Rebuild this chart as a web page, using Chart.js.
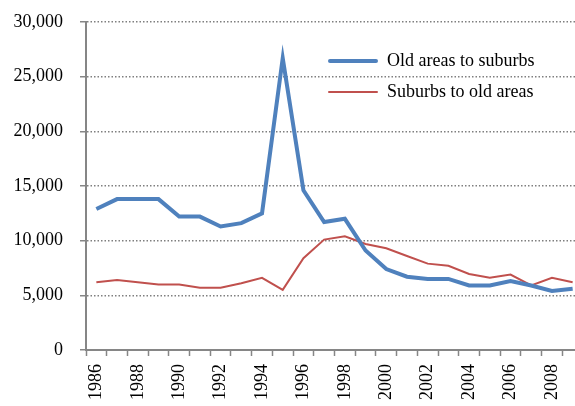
<!DOCTYPE html>
<html>
<head>
<meta charset="utf-8">
<script src="https://cdn.jsdelivr.net/npm/chart.js@4"></script>
<style>
  html, body { margin: 0; padding: 0; background: #fff; overflow: hidden; }
  #wrap { position: relative; width: 585px; height: 406px; }
  #legend { position: absolute; left: 328px; top: 45px; font-family: 'Liberation Serif', serif; font-size: 18px; color: #000; }
  #legend .item { display: flex; align-items: center; height: 31px; }
  #legend .swatch { width: 50px; margin-right: 9px; border-radius: 2px; }
</style>
</head>
<body>
<div id="wrap">
  <canvas id="migrationChart" width="585" height="406"></canvas>
  <div id="legend"></div>
</div>
<script>
// yearly moves between old areas and suburbs
var years = ['1986', '1987', '1988', '1989', '1990', '1991', '1992', '1993', '1994', '1995', '1996', '1997',
             '1998', '1999', '2000', '2001', '2002', '2003', '2004', '2005', '2006', '2007', '2008', '2009'];
var oldToSuburbs = [12900, 13800, 13800, 13800, 12200, 12200, 11300, 11600, 12500, 26700, 14600, 11700,
                    12000, 9100, 7400, 6700, 6500, 6500, 5900, 5900, 6300, 5900, 5400, 5600];
var suburbsToOld = [6200, 6400, 6200, 6000, 6000, 5700, 5700, 6100, 6600, 5500, 8400, 10100,
                    10400, 9700, 9300, 8600, 7900, 7700, 6950, 6600, 6900, 5900, 6600, 6200];
var seriesNames = ['Old areas to suburbs', 'Suburbs to old areas'];
var seriesColors = ['#4F81BD', '#C0504D'];

document.addEventListener('DOMContentLoaded', function() {
    var ctx = document.getElementById('migrationChart').getContext('2d');
    var axisGrey = '#868686';
    var font = { family: "'Liberation Serif', serif", size: 18 };

    new Chart(ctx, {
        type: 'line',
        data: {
            labels: years,
            datasets: [{
                label: seriesNames[0],
                data: oldToSuburbs,
                borderColor: seriesColors[0],
                borderWidth: 4,
                pointRadius: 0,
                tension: 0
            }, {
                label: seriesNames[1],
                data: suburbsToOld,
                borderColor: seriesColors[1],
                borderWidth: 2,
                pointRadius: 0,
                tension: 0
            }]
        },
        options: {
            responsive: false,
            animation: false,
            layout: { padding: { left: 12, top: 22, right: 2, bottom: 0 } },
            scales: {
                x: {
                    offset: true,
                    grid: { drawOnChartArea: false, offset: true, tickLength: 6, tickColor: axisGrey, tickWidth: 1.5 },
                    border: { color: axisGrey, width: 2 },
                    ticks: {
                        autoSkip: false,
                        minRotation: 90,
                        maxRotation: 90,
                        padding: 8,
                        color: '#000',
                        font: font,
                        callback: function(val, i) { return i % 2 === 0 ? years[i] : ''; }
                    },
                    afterFit: function(scale) { scale.height = 56; scale.paddingRight = 0; }
                },
                y: {
                    min: 0,
                    max: 30000,
                    grid: { color: '#7f7f7f', lineWidth: 1.5, tickLength: 6, tickColor: axisGrey, tickWidth: 1.5, tickBorderDash: [] },
                    border: { color: axisGrey, width: 2, dash: [1.5, 2] },
                    ticks: {
                        stepSize: 5000,
                        padding: 17,
                        color: '#000',
                        font: font,
                        callback: function(v) { return v.toLocaleString('en-US'); }
                    },
                    afterFit: function(scale) { scale.width = 74; scale.paddingTop = 0; scale.paddingBottom = 0; }
                }
            },
            plugins: {
                legend: { display: false },
                tooltip: { enabled: false }
            }
        }
    });

    var legend = document.getElementById('legend');
    seriesNames.forEach(function(name, i) {
        var item = document.createElement('div');
        item.className = 'item';
        var sw = document.createElement('span');
        sw.className = 'swatch';
        sw.style.height = (i === 0 ? 4 : 2) + 'px';
        sw.style.background = seriesColors[i];
        var txt = document.createElement('span');
        txt.textContent = name;
        item.appendChild(sw);
        item.appendChild(txt);
        legend.appendChild(item);
    });
});
</script>
</body>
</html>
